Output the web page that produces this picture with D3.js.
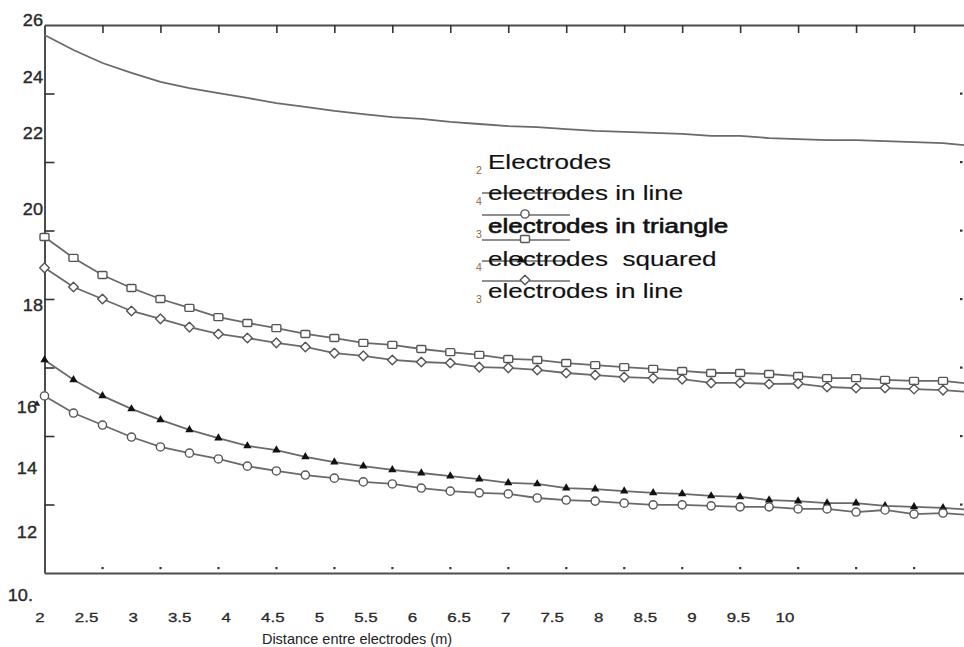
<!DOCTYPE html>
<html><head><meta charset="utf-8">
<script src="https://cdn.jsdelivr.net/npm/d3@7"></script>
<style>body{margin:0;background:#fff;} svg{display:block;} text{white-space:pre;}</style>
</head><body><svg id="c" width="964" height="647"></svg>
<script>
// ---------- DATA ----------
const xValues = [2,2.5,3,3.5,4,4.5,5,5.5,6,6.5,7,7.5,8,8.5,9,9.5,10,10.5,11,11.5,12,12.5,13,13.5,14,14.5,15,15.5,16,16.5,17,17.5,18];
const topLine = [25.71,25.27,24.89,24.60,24.34,24.16,24.01,23.87,23.72,23.61,23.49,23.40,23.31,23.26,23.17,23.11,23.05,23.02,22.96,22.91,22.88,22.85,22.82,22.76,22.76,22.70,22.67,22.64,22.64,22.61,22.58,22.55,22.47];
const squaresSeries = [19.81,19.20,18.70,18.32,18.00,17.74,17.47,17.30,17.15,16.98,16.86,16.72,16.66,16.54,16.45,16.37,16.25,16.22,16.13,16.07,16.01,15.96,15.90,15.84,15.84,15.81,15.75,15.69,15.69,15.64,15.61,15.61,15.52];
const diamondsSeries = [18.91,18.35,18.00,17.65,17.42,17.18,16.98,16.86,16.72,16.60,16.42,16.34,16.22,16.16,16.13,16.01,15.99,15.93,15.84,15.78,15.72,15.69,15.66,15.55,15.55,15.52,15.53,15.43,15.40,15.40,15.37,15.34,15.28];
const trianglesSeries = [16.22,15.64,15.17,14.79,14.47,14.18,13.94,13.71,13.59,13.39,13.24,13.12,13.01,12.92,12.83,12.74,12.63,12.60,12.48,12.45,12.39,12.34,12.31,12.25,12.22,12.13,12.10,12.04,12.04,11.96,11.93,11.90,11.84];
const circlesSeries = [15.17,14.67,14.32,13.97,13.68,13.50,13.33,13.12,12.98,12.86,12.77,12.66,12.60,12.48,12.39,12.34,12.31,12.19,12.13,12.10,12.04,11.99,11.99,11.96,11.93,11.93,11.87,11.87,11.78,11.84,11.72,11.75,11.69];
const yTickValues = [12,14,16,18,20,22,24];
const yLabelValues = [26,24,22,20,18,16,14,12,10];
const yLabelTexts = ["26","24","22","20","18","16","14","12","10."];
const xTickValues = [3,4,5,6,7,8,9,10,11,12,13,14,15,16,17];
const xLabelValues = [2,2.5,3,3.5,4,4.5,5,5.5,6,6.5,7,7.5,8,8.5,9,9.5,10];
const xLabelTexts = ["2","2.5","3","3.5","4","4.5","5","5.5","6","6.5","7","7.5","8","8.5","9","9.5","10"];
const xTitle = "Distance entre electrodes (m)";
const legendTitle = "Electrodes";
const legendLabels = ["electrodes in line","electrodes in triangle","electrodes  squared","electrodes in line"];
const legendSubs = ["2","4","3","4","3"];

// ---------- LAYOUT ----------
const svg = d3.select("#c");
const FONT = "'Liberation Sans', Arial, sans-serif";
const x = d3.scaleLinear().domain([2,18]).range([44.5,972]);
const y = d3.scaleLinear().domain([10,26]).range([573,25]);
// the printed labels sit off their ticks in the original scan
const yLab = d3.scaleLinear().domain([26,24,22,20,18,16,14,12,10]).range([20,77,133,209,305,407,468,532,595]);
const xLab = d3.scaleLinear().domain([2,10]).range([40,785]);

const LINE = "#6a6a6a";
const MARK = "#555";

// axes
const gl = svg.append("g").attr("transform","translate(44.5,0)")
  .call(d3.axisLeft(y).tickValues(yTickValues).tickSize(-10).tickFormat("").tickSizeOuter(0));
const gt = svg.append("g").attr("transform","translate(0,25)")
  .call(d3.axisTop(x).tickValues(xTickValues).tickSize(-8).tickFormat("").tickSizeOuter(0));
const gb = svg.append("g").attr("transform","translate(0,573)")
  .call(d3.axisBottom(x).tickValues([]).tickSize(0).tickSizeOuter(0));
[gl,gt,gb].forEach(g=>{
  g.select(".domain").attr("stroke","#4d4d4d").attr("stroke-width",2);
  g.selectAll(".tick line").attr("stroke","#333").attr("stroke-width",1.6);
});
// bottom dotted ticks
svg.append("g").selectAll("rect").data(xTickValues).join("rect")
  .attr("x",d=>x(d)-1).attr("y",567).attr("width",2.2).attr("height",2.2).attr("fill","#333");
// right dotted ticks
svg.append("g").selectAll("rect").data(yTickValues).join("rect")
  .attr("x",960).attr("y",d=>y(d)-1).attr("width",2.5).attr("height",2.2).attr("fill","#333");

// y labels
svg.append("g").selectAll("text").data(yLabelValues).join("text")
  .attr("transform",d=>`translate(${d>=18?43:(d>10?37:33)},${yLab(d)+6}) scale(1.1,1)`)
  .attr("text-anchor","end").attr("font-family",FONT).attr("font-size",16.5).attr("fill","#2a2a2a")
  .attr("stroke","#2a2a2a").attr("stroke-width",0.35)
  .text((d,i)=>yLabelTexts[i]);
// stray triangle next to "16"
svg.append("path").attr("d",d3.symbol(d3.symbolTriangle,18)())
  .attr("transform",`translate(37,${yLab(16)-3})`).attr("fill","#222");

// x labels
svg.append("g").selectAll("text").data(xLabelValues).join("text")
  .attr("transform",d=>`translate(${xLab(d)},622) scale(1.3,1)`)
  .attr("text-anchor","middle").attr("font-family",FONT).attr("font-size",13).attr("fill","#2a2a2a")
  .attr("stroke","#2a2a2a").attr("stroke-width",0.3)
  .text((d,i)=>xLabelTexts[i]);
svg.append("text").attr("x",357).attr("y",644).attr("text-anchor","middle")
  .attr("font-family",FONT).attr("font-size",14.5).attr("fill","#222").text(xTitle);

// series
const line = d3.line().x((d,i)=>x(xValues[i])).y(d=>y(d));
const series = [
  {vals:topLine, mark:null},
  {vals:squaresSeries, mark:"square"},
  {vals:diamondsSeries, mark:"diamond"},
  {vals:trianglesSeries, mark:"triangle"},
  {vals:circlesSeries, mark:"circle"}
];
const plot = svg.append("g");
series.forEach(s=>{
  plot.append("path").datum(s.vals).attr("d",line)
    .attr("fill","none").attr("stroke",LINE).attr("stroke-width",1.8);
});
function drawMarker(g, type, cx, cy){
  if(type==="square"){
    g.append("rect").attr("x",cx-4.5).attr("y",cy-3.5).attr("width",9).attr("height",7).attr("rx",1.2)
      .attr("fill","#fff").attr("stroke",MARK).attr("stroke-width",1.4);
  } else if(type==="diamond"){
    g.append("path").attr("d",`M${cx},${cy-4.8}L${cx+4.8},${cy}L${cx},${cy+4.8}L${cx-4.8},${cy}Z`)
      .attr("fill","#fff").attr("stroke",MARK).attr("stroke-width",1.4).attr("stroke-linejoin","round");
  } else if(type==="triangle"){
    g.append("path").attr("d",d3.symbol(d3.symbolTriangle,30)()).attr("transform",`translate(${cx},${cy})`)
      .attr("fill","#111");
  } else if(type==="circle"){
    g.append("circle").attr("cx",cx).attr("cy",cy).attr("r",4.1)
      .attr("fill","#fff").attr("stroke",MARK).attr("stroke-width",1.4);
  }
}
series.forEach(s=>{
  if(!s.mark) return;
  const g = plot.append("g");
  s.vals.forEach((v,i)=>{ if(x(xValues[i])<=960) drawMarker(g, s.mark, x(xValues[i]), y(v)); });
});

// legend
const lg = svg.append("g");
const legendLines = [
  {y:193, mark:null},
  {y:215, mark:"circle"},
  {y:240, mark:"square"},
  {y:261, mark:"triangle"},
  {y:281, mark:"diamond"}
];
legendLines.forEach(l=>{
  lg.append("line").attr("x1",482).attr("x2",570).attr("y1",l.y).attr("y2",l.y)
    .attr("stroke",LINE).attr("stroke-width",1.6);
  if(l.mark){
    const g = lg.append("g");
    drawMarker(g, l.mark, l.mark==="triangle"?521:525, l.y-1);
  }
});
const legendBase = [169,200,233,266,298];
const legendTexts = [legendTitle].concat(legendLabels);
lg.selectAll("text.lab").data(legendTexts).join("text").attr("class","lab")
  .attr("transform",(d,i)=>`translate(488,${legendBase[i]}) scale(1.24,1)`)
  .attr("xml:space","preserve")
  .attr("font-family",FONT).attr("font-size",21).attr("fill","#111")
  .attr("stroke","#111").attr("stroke-width",(d,i)=>i===2?0.6:0.15)
  .text(d=>d);
lg.selectAll("text.sub").data(legendSubs).join("text").attr("class","sub")
  .attr("x",476).attr("y",(d,i)=>legendBase[i]+5)
  .attr("font-family",FONT).attr("font-size",10.5).attr("fill","#8a6a45")
  .text(d=>d);
</script></body></html>
